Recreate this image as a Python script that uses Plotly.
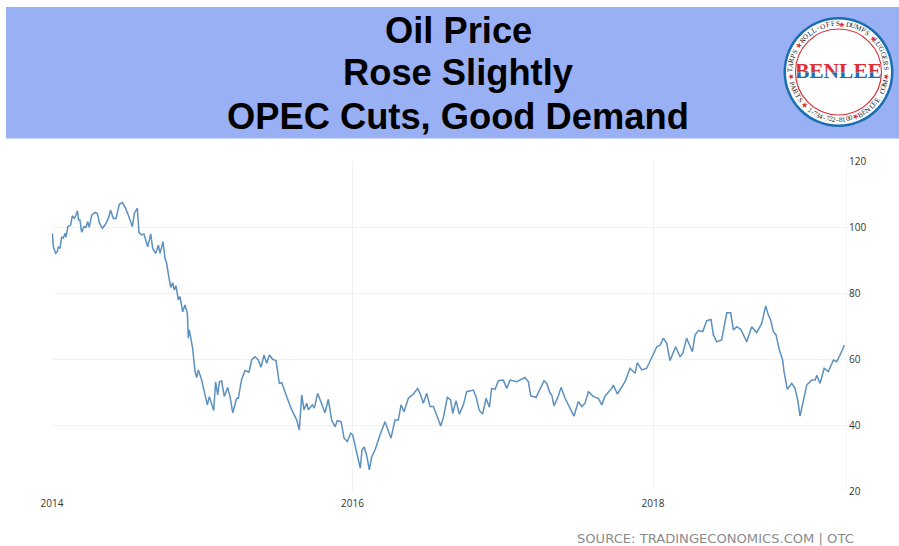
import math
import plotly.graph_objects as go

# Crude oil price, sampled along the series (decimal year, USD per barrel)
years = [
    2014.002, 2014.009, 2014.024, 2014.035, 2014.042, 2014.053, 2014.064, 2014.075, 2014.087, 2014.093,
    2014.106, 2014.124, 2014.135, 2014.149, 2014.158, 2014.169, 2014.177, 2014.186, 2014.197, 2014.213,
    2014.226, 2014.237, 2014.248, 2014.264, 2014.286, 2014.302, 2014.315, 2014.335, 2014.353, 2014.375,
    2014.390, 2014.408, 2014.426, 2014.448, 2014.468, 2014.486, 2014.508, 2014.535, 2014.548, 2014.568,
    2014.579, 2014.597, 2014.612, 2014.637, 2014.657, 2014.670, 2014.690, 2014.708, 2014.719, 2014.739,
    2014.752, 2014.763, 2014.774, 2014.790, 2014.803, 2014.814, 2014.825, 2014.841, 2014.852, 2014.870,
    2014.885, 2014.901, 2014.907, 2014.914, 2014.936, 2014.945, 2014.952, 2014.963, 2014.974, 2014.996,
    2015.018, 2015.034, 2015.047, 2015.063, 2015.076, 2015.089, 2015.103, 2015.114, 2015.129, 2015.147,
    2015.169, 2015.185, 2015.203, 2015.229, 2015.240, 2015.262, 2015.285, 2015.311, 2015.329, 2015.351,
    2015.373, 2015.391, 2015.411, 2015.429, 2015.447, 2015.469, 2015.491, 2015.513, 2015.529, 2015.566,
    2015.595, 2015.629, 2015.646, 2015.662, 2015.677, 2015.695, 2015.706, 2015.733, 2015.746, 2015.768,
    2015.795, 2015.817, 2015.839, 2015.861, 2015.884, 2015.899, 2015.924, 2015.944, 2015.966, 2015.988,
    2016.001, 2016.023, 2016.052, 2016.063, 2016.077, 2016.094, 2016.112, 2016.128, 2016.150, 2016.183,
    2016.216, 2016.232, 2016.256, 2016.283, 2016.305, 2016.323, 2016.343, 2016.372, 2016.405, 2016.434,
    2016.454, 2016.471, 2016.494, 2016.516, 2016.538, 2016.560, 2016.587, 2016.605, 2016.631, 2016.653,
    2016.667, 2016.689, 2016.711, 2016.738, 2016.760, 2016.804, 2016.822, 2016.844, 2016.866, 2016.889,
    2016.911, 2016.926, 2016.949, 2016.971, 2017.004, 2017.026, 2017.049, 2017.093, 2017.148, 2017.171,
    2017.186, 2017.222, 2017.248, 2017.275, 2017.293, 2017.315, 2017.326, 2017.341, 2017.370, 2017.388,
    2017.415, 2017.448, 2017.474, 2017.503, 2017.526, 2017.548, 2017.570, 2017.603, 2017.636, 2017.659,
    2017.681, 2017.725, 2017.736, 2017.763, 2017.814, 2017.847, 2017.881, 2017.896, 2017.925, 2017.958,
    2017.991, 2018.025, 2018.047, 2018.069, 2018.091, 2018.113, 2018.151, 2018.180, 2018.198, 2018.224,
    2018.262, 2018.280, 2018.302, 2018.331, 2018.358, 2018.386, 2018.402, 2018.424, 2018.457, 2018.491,
    2018.517, 2018.535, 2018.557, 2018.584, 2018.624, 2018.657, 2018.690, 2018.724, 2018.750, 2018.768,
    2018.783, 2018.801, 2018.819, 2018.841, 2018.863, 2018.872, 2018.894, 2018.923, 2018.945, 2018.963,
    2018.979, 2018.996, 2019.023, 2019.056, 2019.079, 2019.090, 2019.112, 2019.139, 2019.167, 2019.201,
    2019.223, 2019.245, 2019.274,
]
prices = [
    98.1, 94.0, 92.0, 92.5, 94.0, 93.5, 96.9, 96.6, 98.1, 96.9,
    100.1, 100.6, 103.4, 102.6, 103.4, 104.9, 102.1, 102.1, 98.4, 100.1,
    99.9, 101.6, 99.9, 103.6, 104.4, 104.1, 101.3, 99.6, 100.6, 102.6,
    105.1, 102.6, 102.6, 106.9, 107.4, 106.0, 103.6, 100.1, 104.1, 105.7,
    98.3, 97.6, 97.9, 94.0, 97.9, 93.5, 92.0, 94.5, 92.0, 95.6,
    90.5, 89.0, 85.8, 81.7, 83.1, 80.9, 82.2, 77.9, 78.9, 74.3,
    76.4, 73.8, 66.3, 68.8, 63.2, 59.7, 56.2, 54.4, 56.7, 53.6,
    48.6, 46.1, 48.6, 46.1, 44.4, 53.1, 49.1, 53.1, 53.4, 48.6,
    51.4, 48.6, 43.7, 48.1, 48.1, 53.8, 56.5, 56.0, 59.7, 60.7,
    59.7, 57.5, 61.2, 58.7, 61.2, 59.9, 59.5, 52.6, 52.8, 48.1,
    44.6, 41.5, 38.5, 49.1, 44.6, 46.6, 44.6, 46.1, 45.1, 49.6,
    46.6, 43.7, 47.8, 41.5, 39.5, 41.3, 41.0, 36.0, 35.0, 37.5,
    37.0, 32.4, 26.9, 32.4, 33.4, 30.9, 26.4, 30.4, 32.4, 37.0,
    41.0, 39.0, 36.0, 41.5, 41.5, 46.1, 44.0, 48.1, 49.4, 51.1,
    49.1, 46.6, 49.6, 45.6, 45.6, 43.0, 39.7, 42.3, 48.4, 47.6,
    43.5, 47.4, 43.3, 46.1, 50.1, 50.6, 48.6, 44.4, 43.3, 48.1,
    45.4, 51.1, 50.8, 53.4, 53.6, 51.1, 53.6, 53.1, 54.4, 53.1,
    48.8, 48.4, 51.1, 53.4, 52.6, 49.6, 49.1, 45.8, 48.8, 51.4,
    48.1, 45.0, 42.7, 47.1, 45.6, 46.6, 50.1, 48.6, 48.1, 46.1,
    48.8, 51.1, 52.1, 49.4, 53.1, 57.2, 55.7, 58.9, 56.7, 57.2,
    60.2, 63.7, 64.2, 66.3, 64.8, 59.5, 63.7, 60.7, 61.7, 66.3,
    62.2, 67.3, 68.6, 68.3, 71.6, 72.0, 67.3, 65.2, 65.8, 74.0,
    74.0, 68.8, 69.8, 69.0, 65.2, 69.8, 68.0, 70.8, 76.1, 73.3,
    71.8, 68.3, 67.3, 62.7, 59.7, 56.2, 50.8, 52.6, 51.1, 47.6,
    42.7, 46.1, 52.1, 53.6, 53.6, 55.1, 52.6, 57.2, 56.2, 59.7,
    59.2, 61.2, 64.2,
]

price_ticks = [20, 40, 60, 80, 100, 120]
year_ticks = [2014, 2016, 2018]
title_lines = ["Oil Price", "Rose Slightly", "OPEC Cuts, Good Demand"]
source_label = "SOURCE: TRADINGECONOMICS.COM | OTC"
ring_upper = [("TARPS", -76, 5.5), ("ROLL-OFFS", -25, 6.0), ("DUMPS", 24, 6.0), ("LUGGERS", 68, 6.0)]
ring_lower = [("BENLEE.COM", 128, 5.5), ("1-734-722-8100", 191, 4.0), ("PARTS", 245, 5.5)]
ring_stars = [-56, 4, 47, 95, 160, 226, 265]

W, H = 899, 546
L, R, T, B = 52, 846, 161, 491


# Pixel helpers for header furniture placed in paper coordinates
def px(x):
    return x / W


def py(y):
    return 1 - y / H


fig = go.Figure()
fig.add_trace(go.Scatter(
    x=years, y=prices, mode="lines", hoverinfo="skip",
    line=dict(color="#5b90bf", width=1.5),
))

shapes = [
    # Title banner
    dict(type="rect", xref="paper", yref="paper", x0=px(6), x1=px(899), y0=py(138.5), y1=py(7),
         fillcolor="#9ab0f4", line_width=0, layer="below"),
]

# Round badge
CX, CY = 838.5, 72
for radius, fill, outline, lw in [
    (55, "#1b6fae", None, 0),
    (52.5, "#ffffff", None, 0),
    (43, "#ffffff", "#d8343c", 1.2),
]:
    shapes.append(dict(
        type="circle", xref="paper", yref="paper",
        x0=px(CX - radius), x1=px(CX + radius), y0=py(CY + radius), y1=py(CY - radius),
        fillcolor=fill, line=dict(color=outline or fill, width=lw), layer="below",
    ))

annotations = []
for line, y in zip(title_lines, [30, 73, 116]):
    annotations.append(dict(
        text=f"<b>{line}</b>", xref="paper", yref="paper", x=px(458), y=py(y),
        showarrow=False, xanchor="center", yanchor="middle",
        font=dict(family="Liberation Sans", size=36.3, color="#000000"),
    ))

annotations.append(dict(
    text=source_label, xref="paper", yref="paper", x=px(855.5), y=py(538),
    showarrow=False, xanchor="right", yanchor="middle",
    font=dict(family="DejaVu Sans", size=13.1, color="#8b8b8b"),
))


# Lettering set around the badge ring, one rotated glyph at a time
def ring_glyph(ch, theta, upright_top, color="#222222", size=7.2):
    rad = math.radians(theta)
    r = 48
    x = CX + r * math.sin(rad)
    y = CY - r * math.cos(rad)
    annotations.append(dict(
        text=ch, xref="paper", yref="paper", x=px(x), y=py(y),
        showarrow=False, xanchor="center", yanchor="middle",
        textangle=theta if upright_top else theta - 180,
        font=dict(family="Liberation Serif", size=size, color=color),
    ))


for word, mid, step in ring_upper:
    for i, ch in enumerate(word):
        ring_glyph(ch, mid + (i - (len(word) - 1) / 2) * step, True)
for word, mid, step in ring_lower:
    for i, ch in enumerate(word):
        ring_glyph(ch, mid - (i - (len(word) - 1) / 2) * step, False)
for theta in ring_stars:
    ring_glyph("★", theta, True, color="#d8343c", size=8)

# Badge wordmark: two clipped copies give the red top and blue bottom halves
split_y = 72.5
word_half_w, word_half_h = 42, 14
for axis_x, axis_y, colour in [("x2", "y2", "#dc2f36"), ("x3", "y3", "#1b6fb3")]:
    fig.add_trace(go.Scatter(
        x=[0], y=[0], xaxis=axis_x, yaxis=axis_y, mode="text", text=["<b>BENLEE</b>"],
        textposition="middle center", cliponaxis=True, hoverinfo="skip",
        textfont=dict(family="Liberation Serif", size=21.5, color=colour),
    ))

hidden = dict(visible=False, fixedrange=True)
badge_dom = [(CX - word_half_w) / W, (CX + word_half_w) / W]

fig.update_layout(
    width=W, height=H, autosize=False,
    margin=dict(l=0, r=0, t=0, b=0, pad=0, autoexpand=False),
    paper_bgcolor="#ffffff", plot_bgcolor="#ffffff",
    showlegend=False,
    shapes=shapes, annotations=annotations,
    xaxis=dict(
        domain=[L / W, R / W], range=[2014, 2014 + (R - L) / 150.25],
        tickmode="array", tickvals=year_ticks, ticktext=[str(v) for v in year_ticks],
        showgrid=True, gridcolor="#f1f1f1", gridwidth=1, zeroline=False,
        showline=False, ticks="", anchor="y", ticklabelstandoff=5,
        tickfont=dict(family="Open Sans", size=10, color="#333333"),
    ),
    yaxis=dict(
        domain=[(H - B) / H, (H - T) / H], range=[20, 120], side="right",
        tickmode="array", tickvals=price_ticks,
        showgrid=True, gridcolor="#f1f1f1", gridwidth=1, zeroline=False,
        showline=True, linecolor="#f4f4f4", ticks="", anchor="x",
        tickfont=dict(family="Open Sans", size=10, color="#333333"),
    ),
    xaxis2=dict(domain=badge_dom, range=[-1, 1], anchor="y2", **hidden),
    yaxis2=dict(domain=[(H - split_y) / H, (H - split_y + word_half_h) / H], range=[0, 1], anchor="x2", **hidden),
    xaxis3=dict(domain=badge_dom, range=[-1, 1], anchor="y3", **hidden),
    yaxis3=dict(domain=[(H - split_y - word_half_h) / H, (H - split_y) / H], range=[-1, 0], anchor="x3", **hidden),
)

fig.write_html("out.html")
